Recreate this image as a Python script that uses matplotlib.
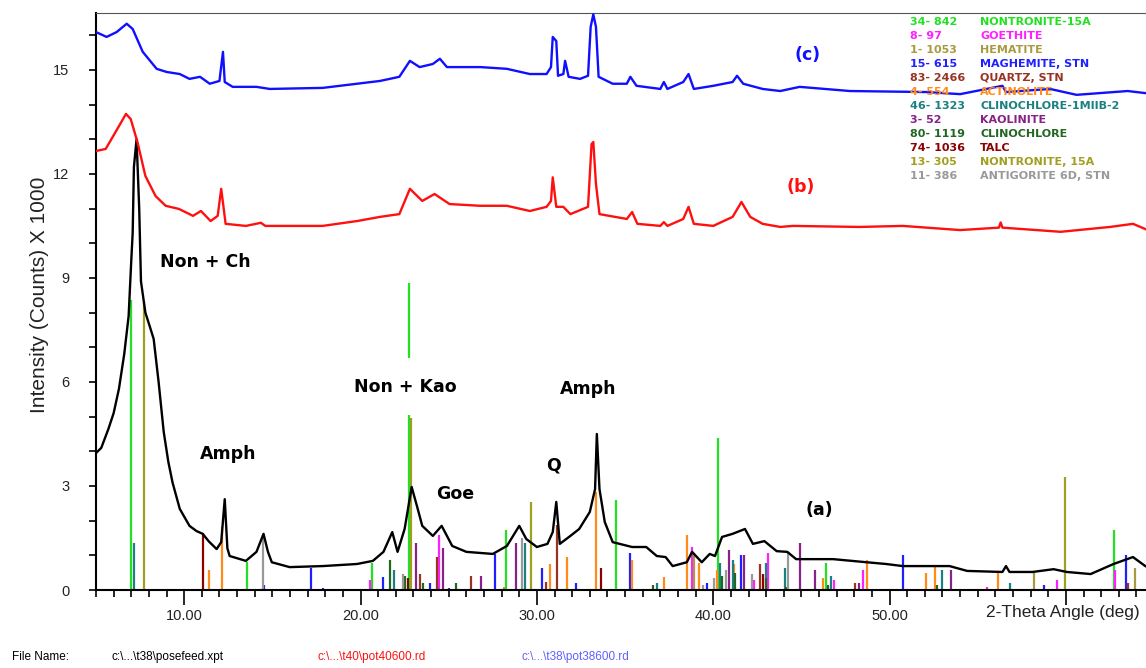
import matplotlib.pyplot as plt
from matplotlib.ticker import MultipleLocator, FormatStrFormatter

# diffractograms, intensity in counts x 1000
tt_a = [5.0, 5.3, 5.7, 6.0, 6.3, 6.6, 6.85, 7.0, 7.08, 7.15, 7.3, 7.45, 7.55, 7.8, 8.05, 8.27,
        8.55, 8.84, 9.1, 9.34, 9.75, 10.3, 10.7, 11.05, 11.4, 11.84, 12.1, 12.3, 12.45, 12.58,
        13.5, 14.1, 14.5, 14.75, 14.97, 15.98, 17.86, 19.8, 20.7, 21.3, 21.8, 22.1, 22.5, 22.9,
        23.2, 23.5, 24.1, 24.6, 25.2, 26.0, 27.5, 28.3, 29.0, 29.4, 30.0, 30.6, 30.9, 31.1,
        31.3, 31.9, 32.4, 33.0, 33.3, 33.4, 33.55, 33.85, 34.3, 35.4, 36.2, 36.8, 37.3, 37.7,
        38.5, 38.8, 39.35, 39.8, 40.1, 40.5, 41.1, 41.8, 42.25, 42.9, 43.6, 44.2, 44.7, 46.8,
        48.7, 49.8, 50.75, 53.4, 54.4, 56.4, 56.6, 56.8, 58.1, 59.3, 60.05, 61.4, 62.7, 63.8, 64.5]
i_a = [3.95, 4.1, 4.64, 5.1, 5.8, 6.8, 7.9, 9.5, 10.3, 12.2, 13.0, 11.0, 8.9, 8.0, 7.6, 7.24,
       6.0, 4.56, 3.7, 3.1, 2.34, 1.85, 1.7, 1.62, 1.4, 1.18, 1.38, 2.62, 1.2, 0.98,
       0.84, 1.1, 1.62, 1.1, 0.8, 0.66, 0.69, 0.75, 0.84, 1.1, 1.67, 1.1, 1.76, 2.97,
       2.42, 1.85, 1.56, 1.85, 1.27, 1.1, 1.04, 1.27, 1.85, 1.47, 1.24, 1.33, 1.67, 2.54,
       1.33, 1.56, 1.76, 2.25, 2.91, 4.5, 2.91, 1.96, 1.38, 1.24, 1.24, 0.98, 0.95, 0.69,
       0.8, 1.1, 0.8, 1.04, 0.98, 1.53, 1.62, 1.76, 1.33, 1.41, 1.12, 1.1, 0.89, 0.89,
       0.8, 0.75, 0.69, 0.69, 0.55, 0.52, 0.69, 0.52, 0.52, 0.6, 0.52, 0.46, 0.75, 0.95, 0.69]

tt_b = [5.0, 5.55, 6.1, 6.7, 6.97, 7.35, 7.8, 8.38, 8.95, 9.7, 10.5, 10.95, 11.5, 11.9, 12.1,
        12.35, 13.5, 14.35, 14.6, 16.3, 17.85, 19.8, 21.1, 22.2, 22.8, 23.5, 24.2, 25.05, 26.8,
        28.3, 29.6, 30.55, 30.8, 30.9, 31.1, 31.5, 31.9, 32.9, 33.1, 33.2, 33.35, 33.55, 35.1,
        35.4, 35.7, 37.0, 37.2, 37.4, 38.3, 38.6, 38.9, 40.0, 41.1, 41.6, 42.1, 42.8, 43.8,
        44.5, 48.3, 50.75, 54.0, 56.2, 56.3, 56.4, 59.7, 62.5, 63.8, 64.5]
i_b = [12.66, 12.72, 13.2, 13.73, 13.58, 12.92, 11.94, 11.36, 11.08, 10.99, 10.79, 10.93, 10.64,
       10.79, 11.57, 10.56, 10.5, 10.59, 10.5, 10.5, 10.5, 10.64, 10.76, 10.84, 11.57, 11.22,
       11.42, 11.13, 11.08, 11.08, 10.93, 11.05, 11.22, 11.9, 11.05, 11.05, 10.84, 11.05, 12.86,
       12.92, 11.71, 10.84, 10.7, 10.9, 10.56, 10.5, 10.61, 10.5, 10.7, 11.05, 10.56, 10.5,
       10.76, 11.19, 10.76, 10.56, 10.47, 10.5, 10.47, 10.5, 10.38, 10.45, 10.6, 10.45, 10.33,
       10.47, 10.56, 10.41]

tt_c = [5.0, 5.6, 6.17, 6.74, 7.08, 7.65, 8.44, 9.0, 9.75, 10.3, 10.9, 11.45, 12.0, 12.2, 12.3,
        12.75, 14.1, 14.85, 17.85, 19.8, 21.1, 22.2, 22.8, 23.35, 24.1, 24.5, 24.9, 26.8, 28.3,
        29.6, 30.55, 30.8, 30.9, 31.1, 31.2, 31.5, 31.6, 31.8, 32.45, 32.9, 33.05, 33.2, 33.35,
        33.5, 34.3, 35.1, 35.3, 35.65, 37.0, 37.2, 37.4, 38.3, 38.6, 38.9, 40.0, 41.1, 41.35,
        41.7, 42.8, 43.8, 44.9, 47.75, 52.1, 54.0, 56.4, 56.6, 59.1, 60.6, 63.5, 64.5]
i_c = [16.09, 15.95, 16.09, 16.33, 16.18, 15.52, 15.03, 14.94, 14.88, 14.74, 14.8, 14.6, 14.68,
       15.52, 14.65, 14.51, 14.51, 14.45, 14.48, 14.6, 14.68, 14.8, 15.26, 15.08, 15.17, 15.32,
       15.08, 15.08, 15.03, 14.88, 14.88, 15.08, 15.95, 15.83, 14.83, 14.88, 15.26, 14.8, 14.74,
       14.83, 16.24, 16.6, 16.24, 14.8, 14.6, 14.6, 14.8, 14.54, 14.45, 14.65, 14.45, 14.65,
       14.88, 14.45, 14.54, 14.65, 14.83, 14.6, 14.45, 14.39, 14.51, 14.39, 14.36, 14.3, 14.54,
       14.36, 14.45, 14.28, 14.39, 14.33]

# reference patterns (stick positions and heights)
non15a_2t = [6.96, 13.56, 20.67, 22.73, 28.24, 34.5, 40.28, 46.42, 62.74]
non15a_h = [8.36, 0.8, 0.78, 8.85, 1.73, 2.6, 4.38, 0.78, 1.73]
goe_2t = [20.56, 24.45, 38.8, 42.3, 43.08, 46.84, 48.47, 55.5, 59.5, 62.8]
goe_h = [0.29, 1.58, 1.24, 0.29, 1.07, 0.29, 0.58, 0.1, 0.29, 0.58]
hem_2t = [28.15, 38.9, 58.2, 63.9]
hem_h = [0.1, 1.07, 0.49, 0.64]
mag_2t = [14.5, 17.2, 17.86, 21.25, 23.93, 25.02, 27.6, 30.3, 32.24, 35.27, 39.62, 41.55, 50.74, 58.77, 63.4]
mag_h = [0.15, 0.64, 0.05, 0.37, 0.2, 0.05, 1.04, 0.64, 0.2, 1.07, 0.2, 1.01, 1.01, 0.14, 1.01]
qtz_2t = [23.36, 24.36, 26.28, 30.49, 31.14, 42.64, 48.03, 63.5]
qtz_h = [0.46, 0.95, 0.4, 0.23, 1.87, 0.75, 0.2, 0.2]
act_2t = [11.39, 12.15, 30.72, 31.72, 33.33, 35.4, 37.2, 38.5, 39.2, 40.24, 41.19, 46.23, 48.7,
          52.06, 52.6, 56.13]
act_h = [0.58, 1.82, 0.75, 0.95, 2.83, 0.87, 0.37, 1.58, 0.78, 0.58, 0.75, 0.35, 0.87, 0.49, 0.67, 0.49]
chl1_2t = [7.15, 21.87, 29.35, 36.8, 40.38, 41.1, 42.97, 44.06, 46.65, 53.0, 56.82]
chl1_h = [1.36, 0.58, 1.36, 0.2, 0.78, 0.87, 0.78, 0.64, 0.4, 0.58, 0.2]
kao_2t = [23.17, 24.68, 26.85, 28.8, 40.9, 41.74, 44.9, 45.76, 48.28, 53.46]
kao_h = [1.36, 1.21, 0.4, 1.36, 1.15, 1.01, 1.36, 0.58, 0.2, 0.58]
chl_2t = [21.66, 22.5, 23.52, 25.43, 36.6, 40.52, 41.22, 43.0, 44.12, 46.5, 52.7]
chl_h = [0.87, 0.4, 0.2, 0.2, 0.14, 0.4, 0.5, 0.35, 0.1, 0.14, 0.14]
talc_2t = [11.07, 22.69, 33.66, 42.8]
talc_h = [1.64, 0.35, 0.64, 0.46]
non_2t = [7.72, 22.84, 29.65, 59.94]
non_h = [8.3, 4.96, 2.54, 3.26]
ant_2t = [14.47, 22.4, 29.13, 39.43, 40.03, 40.72, 42.2, 44.25]
ant_h = [1.58, 0.46, 1.5, 0.14, 0.35, 0.58, 0.46, 1.1]

cards = ['34- 842', '8- 97', '1- 1053', '15- 615', '83- 2466', '4- 554', '46- 1323', '3- 52',
         '80- 1119', '74- 1036', '13- 305', '11- 386']
card_names = ['NONTRONITE-15A', 'GOETHITE', 'HEMATITE', 'MAGHEMITE, STN', 'QUARTZ, STN',
              'ACTINOLITE', 'CLINOCHLORE-1MIIB-2', 'KAOLINITE', 'CLINOCHLORE', 'TALC',
              'NONTRONITE, 15A', 'ANTIGORITE 6D, STN']
stick_pos = [non15a_2t, goe_2t, hem_2t, mag_2t, qtz_2t, act_2t, chl1_2t, kao_2t, chl_2t,
             talc_2t, non_2t, ant_2t]
stick_h = [non15a_h, goe_h, hem_h, mag_h, qtz_h, act_h, chl1_h, kao_h, chl_h, talc_h, non_h, ant_h]
card_colors = ['#22e022', '#ff20ff', '#a89a40', '#2020ff', '#993322', '#ff8c1a', '#1a8080',
               '#882288', '#226622', '#8b0000', '#a0a020', '#999999']

# x tick labels, the last one gives way to the axis title
x_ticks = [10, 20, 30, 40, 50, 60]
x_labels = ['10.00', '20.00', '30.00', '40.00', '50.00', '']

fig = plt.figure(figsize=(11.46, 6.68), dpi=100)
ax = fig.add_axes([96 / 1146, 1 - 590 / 668, 1 - 96 / 1146, 577 / 668])

for pos, h, c in zip(stick_pos, stick_h, card_colors):
    ax.vlines(pos, 0, h, color=c, lw=1.6, zorder=2)

ax.plot(tt_a, i_a, color='black', lw=1.7, zorder=4)
ax.plot(tt_b, i_b, color='#ff1010', lw=1.7, zorder=4)
ax.plot(tt_c, i_c, color='#1010ff', lw=1.7, zorder=4)

ax.set_xlim(5, 64.54)
ax.set_ylim(0, 16.64)

ax.set_xticks(x_ticks)
ax.set_xticklabels(x_labels)
ax.xaxis.set_minor_locator(MultipleLocator(1))
ax.yaxis.set_major_locator(MultipleLocator(3))
ax.yaxis.set_minor_locator(MultipleLocator(1))
ax.yaxis.set_major_formatter(FormatStrFormatter('%d'))
ax.tick_params(axis='x', which='major', length=11, width=1.2, pad=3, labelsize=10.5,
               labelfontfamily='Liberation Sans', labelcolor='#222222')
ax.tick_params(axis='x', which='minor', length=5, width=1.2)
ax.tick_params(axis='y', which='both', length=5, width=1.2, pad=14, labelsize=10.5,
               labelfontfamily='Liberation Sans', labelcolor='#222222')
ax.spines['right'].set_visible(False)
ax.spines['top'].set_color('#555555')
ax.spines['left'].set_linewidth(1.5)
ax.spines['bottom'].set_linewidth(1.5)

fig.text(40 / 1146, 1 - 295 / 668, 'Intensity (Counts) X 1000', rotation=90, ha='center',
         va='center', fontsize=15, family='Liberation Sans', color='#222222')
fig.text(1140 / 1146, 1 - 612 / 668, '2-Theta Angle (deg)', ha='right', va='center',
         fontsize=12.5, family='Liberation Sans', color='#222222')

# peak assignments
bold = dict(fontsize=12.5, fontweight='bold', family='DejaVu Sans', va='center', ha='left', zorder=5)
ax.text(8.61, 9.46, 'Non + Ch', **bold)
ax.text(19.61, 5.86, 'Non + Kao', bbox=dict(fc='white', ec='none', pad=14), **bold)
ax.text(31.3, 5.8, 'Amph', **bold)
ax.text(10.88, 3.92, 'Amph', **bold)
ax.text(24.27, 2.77, 'Goe', **bold)
ax.text(30.5, 3.6, 'Q', **bold)
ax.text(45.25, 2.31, '(a)', **bold)
ax.text(44.17, 11.62, '(b)', color='#ff1010', **bold)
ax.text(44.63, 15.43, '(c)', color='#1010ff', **bold)

# card list
for k, (code, name, c) in enumerate(zip(cards, card_names, card_colors)):
    y = 1 - (22 + 14 * k) / 668
    fig.text(910 / 1146, y, code, color=c, fontsize=8, fontweight='bold', va='center', zorder=1)
    fig.text(980 / 1146, y, name, color=c, fontsize=8, fontweight='bold', va='center', zorder=1)

# file names
fig.text(12 / 1146, 1 - 657 / 668, 'File Name:', fontsize=8.5, family='Liberation Sans', va='center')
fig.text(112 / 1146, 1 - 657 / 668, 'c:\\...\\t38\\posefeed.xpt', fontsize=8.5,
         family='Liberation Sans', va='center')
fig.text(318 / 1146, 1 - 657 / 668, 'c:\\...\\t40\\pot40600.rd', fontsize=8.5,
         family='Liberation Sans', va='center', color='#ff1010')
fig.text(522 / 1146, 1 - 657 / 668, 'c:\\...\\t38\\pot38600.rd', fontsize=8.5,
         family='Liberation Sans', va='center', color='#6060ff')

fig.savefig('out.png', dpi=100)
